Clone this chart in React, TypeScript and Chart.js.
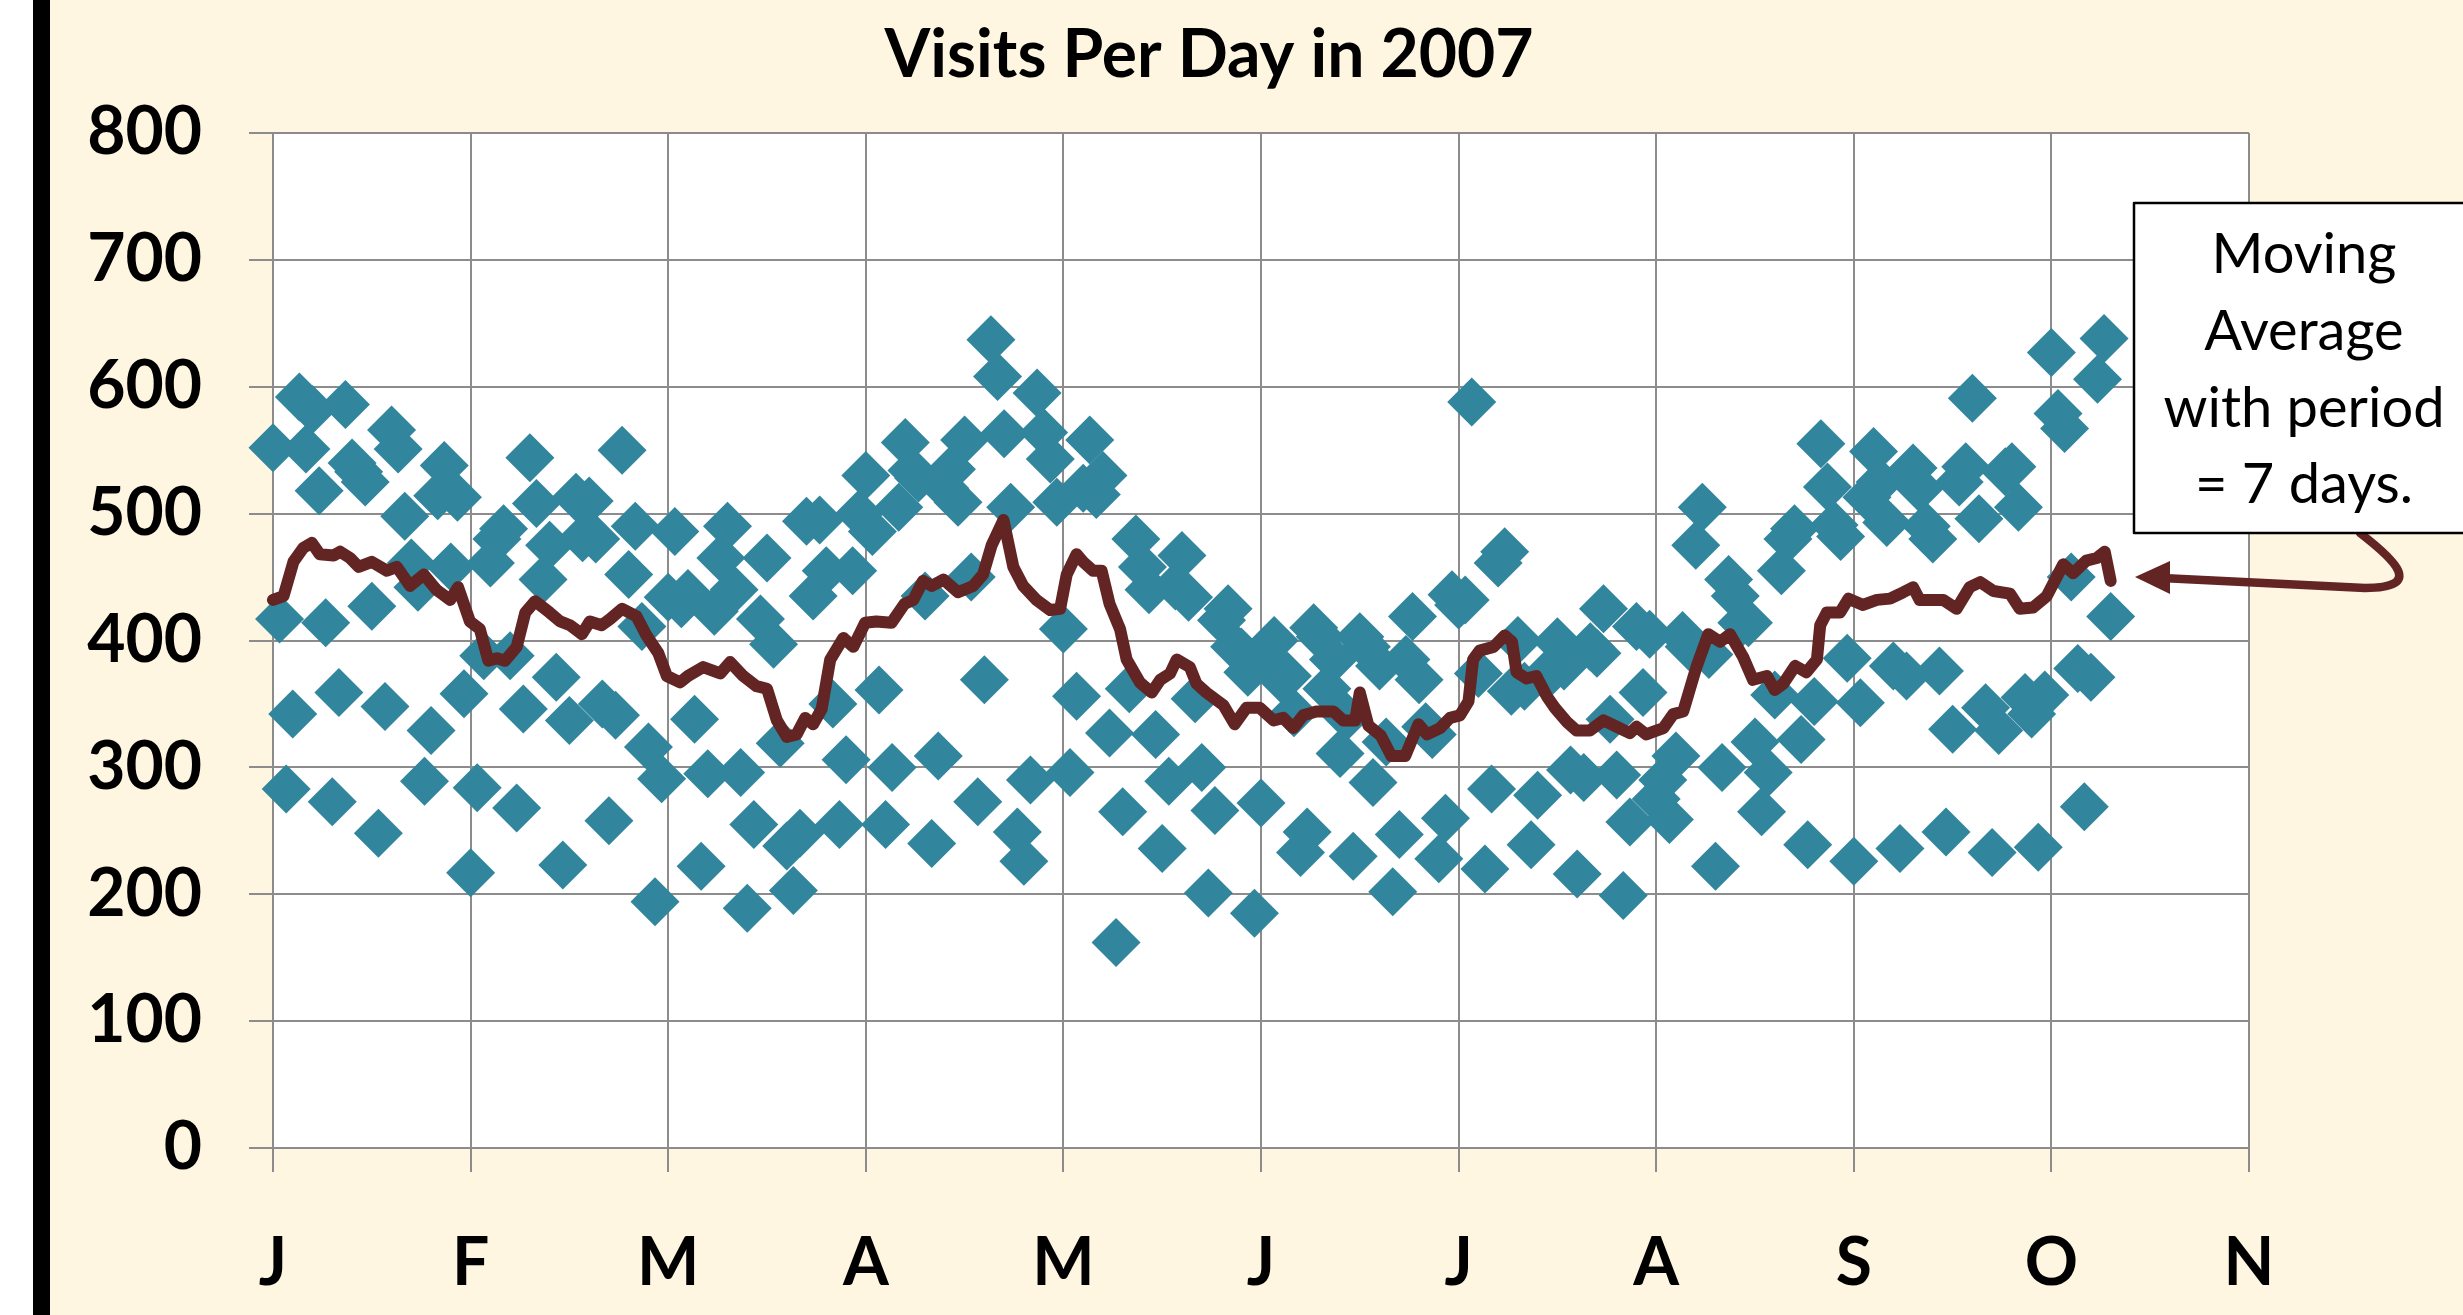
import React, { useEffect, useRef } from "react";
import { Chart, registerables } from "chart.js";

Chart.register(...registerables);

// ---- data ----
const chartTitle = "Visits Per Day in 2007";
const monthLabels = ["J", "F", "M", "A", "M", "J", "J", "A", "S", "O", "N"];
const yTickStep = 100;
const xTickStep = 30;

// visits per day, day 0 = 1 Jan 2007
const visits = [
  552, 417, 283, 342, 592, 551, 582, 518, 414, 273,
  359, 586, 540, 533, 525, 427, 248, 348, 566, 551,
  498, 461, 442, 289, 329, 514, 538, 458, 513, 358,
  217, 284, 388, 461, 480, 488, 388, 268, 346, 544,
  508, 448, 475, 371, 223, 337, 513, 481, 510, 480,
  350, 258, 341, 550, 452, 490, 411, 316, 194, 291,
  434, 486, 429, 437, 338, 222, 295, 423, 465, 490,
  440, 296, 189, 255, 417, 465, 397, 319, 238, 203,
  248, 494, 435, 495, 455, 350, 255, 306, 455, 500,
  530, 486, 361, 255, 300, 505, 556, 534, 528, 435,
  240, 309, 520, 535, 509, 558, 450, 273, 369, 637,
  608, 563, 505, 249, 226, 290, 595, 564, 543, 509,
  409, 296, 356, 520, 558, 515, 530, 327, 162, 265,
  362, 480, 458, 440, 326, 236, 289, 443, 467, 434,
  354, 300, 201, 266, 416, 425, 395, 391, 375, 185,
  272, 385, 400, 370, 372, 343, 233, 249, 410, 403,
  362, 385, 311, 340, 230, 403, 395, 288, 380, 320,
  202, 247, 385, 419, 369, 332, 326, 228, 260, 436,
  428, 432, 588, 374, 220, 283, 461, 470, 360, 400,
  364, 239, 278, 372, 375, 399, 380, 298, 216, 292,
  395, 390, 425, 338, 294, 199, 257, 411, 359, 405,
  275, 290, 259, 309, 404, 395, 475, 505, 389, 222,
  300, 448, 435, 414, 414, 320, 265, 296, 357, 455,
  480, 488, 322, 239, 352, 555, 521, 491, 482, 386,
  226, 351, 513, 549, 525, 493, 380, 236, 372, 536,
  520, 490, 480, 376, 249, 330, 525, 537, 591, 496,
  347, 233, 329, 533, 537, 505, 355, 342, 237, 357,
  627, 579, 567, 450, 378, 269, 371, 606, 638, 419,
];

// 7-day moving average
const maDays = [
  0, 1.6, 3.1, 4.6, 5.9, 7.1, 9.2, 10.2, 11.7, 13, 15, 17.3, 18.8, 20.8, 22.9, 24.8, 26.9, 28.1, 29.9,
  31.4, 32.7, 34, 35.2, 37, 38.3, 39.8, 42, 43.6, 45.1, 46.9, 48.1, 49.9, 51.2, 53, 55.2, 56.7, 58.5,
  59.8, 61.8, 63, 65.3, 67.9, 69.4, 71.4, 73.4, 75, 76.5, 78, 79.5, 80.8, 82, 83.3, 84.6, 86.6, 88.1,
  89.9, 91.6, 93.9, 95.9, 97.2, 98.7, 100, 101.8, 104, 106.3, 107.8, 109.1, 110.9, 112.4, 113.9, 115.9,
  118, 119.5, 120.5, 122, 123, 124.5, 125.8, 127, 128.6, 129.6, 131.6, 133.4, 134.7, 136.2, 137.2,
  139.2, 140.2, 141.7, 144.3, 146, 147.8, 149.8, 151.9, 153.4, 154.9, 156.4, 158.4, 161, 162.5, 164.3,
  165, 166.3, 168.2, 169.8, 171.9, 173.9, 175.2, 177.2, 178.7, 180.2, 181.5, 182.2, 183.2, 185.3, 187,
  188.1, 188.8, 190.3, 191.8, 193.4, 194.6, 196.4, 197.9, 199.9, 202, 204, 206, 207, 208.5, 209.5,
  211.1, 212.6, 214.1, 216.1, 217.9, 219.7, 221.2, 223.2, 224.7, 226.8, 228, 229.3, 231.1, 232.8,
  234.4, 234.9, 235.9, 237.9, 239.2, 241.4, 243.5, 245.5, 247.5, 249, 250, 251.6, 253.6, 255.6, 257.6,
  259.2, 261.2, 263.7, 265.2, 267.2, 269.3, 271.8, 273.3, 275.3, 276.9, 278.1, 279,
];
const maValues = [
  432, 435, 462, 473, 477, 468, 467, 470, 465, 458, 462, 455, 458, 443, 452, 440, 432, 442, 415,
  409, 384, 386, 384, 395, 422, 431, 422, 415, 412, 405, 415, 412, 417, 425, 419, 404, 390,
  372, 367, 372, 379, 374, 383, 372, 364, 362, 337, 324, 326, 339, 334, 346, 385, 402, 395,
  414, 415, 414, 429, 432, 447, 443, 448, 438, 443, 452, 475, 495, 458, 443, 432,
  424, 425, 452, 468, 462, 455, 455, 429, 409, 385, 367, 359, 369, 374, 385,
  379, 366, 359, 349, 334, 347, 347, 337, 339, 331, 341, 344, 344, 337, 337,
  359, 333, 325, 309, 309, 334, 326, 331, 339, 341, 352, 385, 392, 395, 404,
  399, 375, 370, 372, 356, 347, 336, 329, 329, 337, 332, 327, 332, 326, 328,
  331, 342, 344, 379, 405, 399, 405, 387, 369, 372, 361, 366, 380, 375,
  385, 412, 422, 422, 433, 428, 432, 433, 438, 442, 432, 432, 432, 425, 442,
  446, 439, 437, 425, 426, 435, 460, 453, 463, 465, 470, 447,
];

const noteLines = ["Moving", "Average", "with period", "= 7 days."];

// ---- styles ----
const CREAM = "#FEF6E1";
const GRID = "#8C8C8C";
const MARKER = "#31859C";
const LINE = "#632523";
const FONT = "Lato, 'Open Sans', sans-serif";

const decorPlugin = {
  id: "decor",
  beforeDraw(chart: any) {
    const { ctx, chartArea: a, width, height } = chart;
    ctx.save();
    ctx.fillStyle = "#ffffff";
    ctx.fillRect(0, 0, width, height);
    ctx.fillStyle = "#000000";
    ctx.fillRect(33, 0, 17, height);
    ctx.fillStyle = CREAM;
    ctx.fillRect(50, 0, width - 50, height);
    ctx.fillStyle = "#ffffff";
    ctx.fillRect(a.left, a.top, a.right - a.left, a.bottom - a.top);
    ctx.fillStyle = "#000000";
    ctx.font = `bold 66px ${FONT}`;
    ctx.textAlign = "center";
    ctx.textBaseline = "alphabetic";
    ctx.fillText(chartTitle, 1209, 77);
    ctx.restore();
  },
  afterDraw(chart: any) {
    const { ctx } = chart;
    ctx.save();
    // arrow
    ctx.strokeStyle = LINE;
    ctx.lineWidth = 8.5;
    ctx.lineCap = "round";
    ctx.lineJoin = "round";
    ctx.beginPath();
    ctx.moveTo(2360, 533);
    ctx.bezierCurveTo(2395, 560, 2425, 588, 2365, 588);
    ctx.lineTo(2162, 578);
    ctx.stroke();
    ctx.fillStyle = LINE;
    ctx.beginPath();
    ctx.moveTo(2135, 577);
    ctx.lineTo(2170, 561);
    ctx.lineTo(2170, 594);
    ctx.closePath();
    ctx.fill();
    // box
    ctx.fillStyle = "#ffffff";
    ctx.fillRect(2134, 203, 340, 330);
    ctx.strokeStyle = "#000000";
    ctx.lineWidth = 2.5;
    ctx.strokeRect(2134, 203, 340, 330);
    ctx.fillStyle = "#000000";
    ctx.font = `56px ${FONT}`;
    ctx.textAlign = "center";
    ctx.textBaseline = "alphabetic";
    const baselines = [273, 350, 427, 503];
    noteLines.forEach((t, i) => ctx.fillText(t, 2304, baselines[i]));
    ctx.restore();
  },
};

export default function App() {
  const ref = useRef<HTMLCanvasElement>(null);

  useEffect(() => {
    const canvas = ref.current;
    if (!canvas) return;
    const tickFont = { family: FONT, weight: "bold" as const, size: 66, lineHeight: 1 };
    const chart = new Chart(canvas, {
      type: "scatter",
      data: {
        datasets: [
          {
            type: "line",
            label: "7-day moving average",
            data: maDays.map((d, i) => ({ x: d, y: maValues[i] })),
            borderColor: LINE,
            backgroundColor: LINE,
            borderWidth: 12,
            fill: false,
            pointRadius: 0,
            pointHoverRadius: 0,
            borderJoinStyle: "round",
            borderCapStyle: "round",
            tension: 0,
            order: 0,
            clip: false,
          } as any,
          {
            type: "scatter",
            label: "Visits",
            data: visits.map((v, i) => ({ x: i, y: v })),
            pointStyle: "rectRot",
            pointRadius: 24.5,
            pointHoverRadius: 24.5,
            backgroundColor: MARKER,
            borderColor: MARKER,
            borderWidth: 0,
            order: 1,
            clip: false,
          } as any,
        ],
      },
      options: {
        animation: false,
        responsive: false,
        events: [],
        layout: { padding: { left: 0, right: 214, top: 133, bottom: 0 } },
        plugins: {
          legend: { display: false },
          tooltip: { enabled: false },
          title: { display: false },
        },
        scales: {
          x: {
            type: "linear",
            min: 0,
            max: 300,
            afterFit: (s: any) => {
              s.height = 167;
            },
            ticks: {
              stepSize: xTickStep,
              autoSkip: false,
              maxRotation: 0,
              color: "#000000",
              font: tickFont,
              padding: 59,
              callback: (v: any) => monthLabels[Math.round(Number(v) / xTickStep)] ?? "",
            },
            grid: { color: GRID, lineWidth: 2, tickLength: 24, drawTicks: true, tickColor: GRID, tickWidth: 2 },
            border: { display: true, color: GRID, width: 2 },
          },
          y: {
            type: "linear",
            min: 0,
            max: 800,
            afterFit: (s: any) => {
              s.width = 273;
            },
            ticks: {
              stepSize: yTickStep,
              color: "#000000",
              font: tickFont,
              padding: 47,
            },
            grid: { color: GRID, lineWidth: 2, tickLength: 24, drawTicks: true, tickColor: GRID, tickWidth: 2 },
            border: { display: true, color: GRID, width: 2 },
          },
        },
      } as any,
      plugins: [decorPlugin],
    });
    return () => chart.destroy();
  }, []);

  return (
    <div style={{ position: "fixed", left: 0, top: 0, width: 2463, height: 1315, overflow: "hidden" }}>
      <canvas ref={ref} width={2463} height={1315} style={{ width: 2463, height: 1315, display: "block" }} />
    </div>
  );
}
